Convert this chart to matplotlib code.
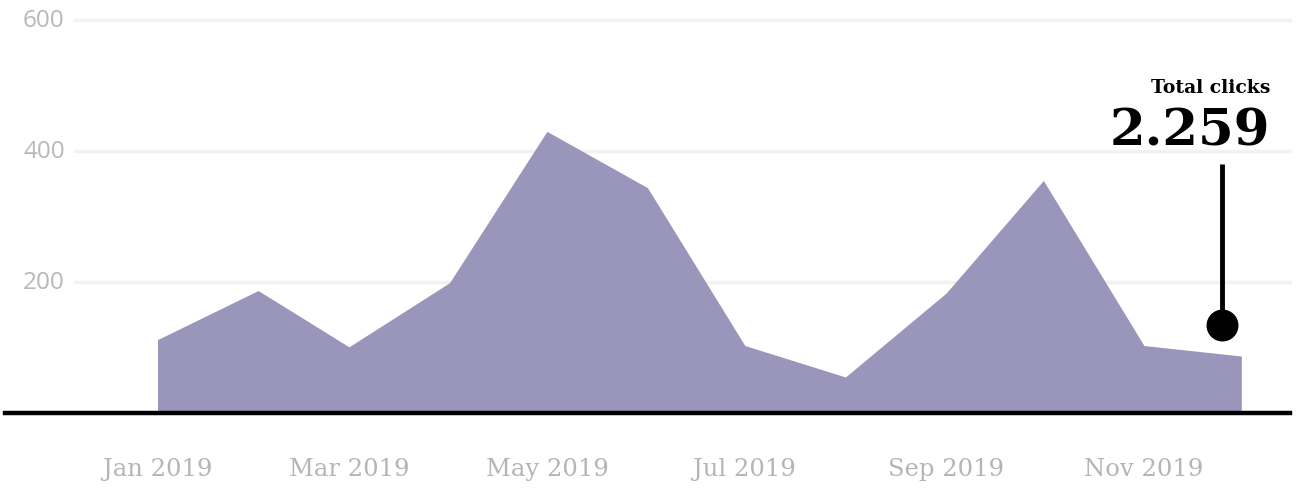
import matplotlib
matplotlib.use("Agg")
import matplotlib.pyplot as plt
from matplotlib import font_manager
import datetime as dt

months = ["2019-01-01", "2019-02-01", "2019-03-01", "2019-04-01", "2019-05-01", "2019-06-01",
          "2019-07-01", "2019-08-01", "2019-09-01", "2019-10-01", "2019-11-01", "2019-12-01"]
clicks = [112, 187, 101, 199, 430, 344, 103, 55, 183, 355, 103, 87]
tick_months = ["2019-01-01", "2019-03-01", "2019-05-01", "2019-07-01", "2019-09-01", "2019-11-01"]
tick_labels = ["Jan 2019", "Mar 2019", "May 2019", "Jul 2019", "Sep 2019", "Nov 2019"]
y_ticks = [200, 400, 600]

dates = [dt.datetime.strptime(m, "%Y-%m-%d") for m in months]
tdates = [dt.datetime.strptime(m, "%Y-%m-%d") for m in tick_months]

names = {f.name for f in font_manager.fontManager.ttflist}
ysans = "Open Sans" if "Open Sans" in names else "DejaVu Sans"

W, H = 1298, 489
fig = plt.figure(figsize=(W / 100, H / 100), dpi=100)
ax = fig.add_axes([5 / W, 75 / H, (1290 - 5) / W, (414 - 21) / H])

ax.fill_between(dates, clicks, 0, color="#9a95bb", linewidth=0, zorder=2)

ax.set_xlim(dt.datetime(2018, 11, 15), dt.datetime(2019, 12, 16))
ax.set_ylim(0, 600)

for s in ax.spines.values():
    s.set_visible(False)
ax.axhline(0, color="black", linewidth=3.2, zorder=3, clip_on=False)

grid_start = (75 - 5) / (1290 - 5)
for yv in y_ticks:
    ax.axhline(yv, xmin=grid_start, xmax=1, color="#f2f2f2", linewidth=2.5, zorder=1, clip_on=False)
    ax.text(18 / (1290 - 5), yv, str(yv), transform=ax.get_yaxis_transform(), ha="left", va="center",
            fontsize=17.5, color="#b8b8b8", family=ysans)
ax.set_yticks([])

ax.set_xticks(tdates)
ax.set_xticklabels(tick_labels, family="DejaVu Serif", fontsize=17.5, color="#b5b5b5")
ax.tick_params(axis="x", length=0, pad=32)

# annotation
ann_x = dt.datetime(2019, 11, 25)
ax.plot([ann_x, ann_x], [135, 380], color="black", linewidth=3.5, zorder=4, clip_on=False, solid_capstyle="butt")
ax.plot([ann_x], [135], marker="o", markersize=22, color="black", zorder=5, clip_on=False)

total = sum(clicks)
total_str = f"{total:,}".replace(",", ".")
text_x = dt.datetime(2019, 12, 10)
ax.text(text_x, 490, "Total clicks", ha="right", va="baseline", fontsize=13.5, fontweight="bold",
        family="DejaVu Serif", color="black", clip_on=False)
ax.text(text_x, 410, total_str, ha="right", va="baseline", fontsize=37, fontweight="bold",
        family="DejaVu Serif", color="black", clip_on=False)

fig.savefig("out.png", dpi=100)
